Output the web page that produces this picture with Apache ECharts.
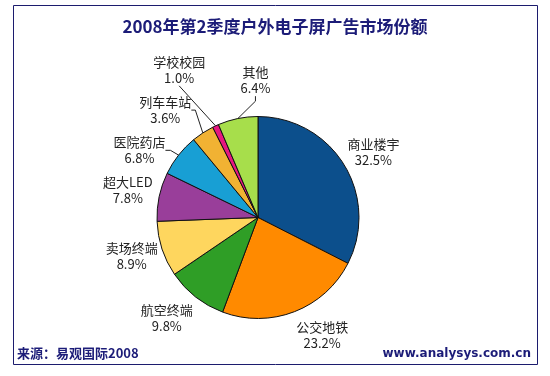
<!DOCTYPE html>
<html>
<head>
<meta charset="utf-8">
<script src="https://cdn.jsdelivr.net/npm/echarts@6/dist/echarts.min.js"></script>
<style>
html,body{margin:0;padding:0;background:#fff;}
#chart{width:550px;height:376px;}
</style>
</head>
<body>
<div id="chart"></div>
<script>
// ---- data ----
const categories = ['商业楼宇', '公交地铁', '航空终端', '卖场终端', '超大LED', '医院药店', '列车车站', '学校校园', '其他'];
const values = [32.5, 23.2, 9.8, 8.9, 7.8, 6.8, 3.6, 1.0, 6.4];
const titleText = '2008年第2季度户外电子屏广告市场份额';
const sourceText = '来源：易观国际2008';
const siteText = 'www.analysys.com.cn';

// ---- styles ----
const colors = ['#0c4f8c', '#ff8a00', '#2f9e26', '#fed65e', '#993e9a', '#189fd4', '#f1b233', '#e6177f', '#a7de4b'];
const showLine = [false, false, false, false, false, true, true, true, true];
const lineLen2 = [5, 5, 5, 5, 5, 5, 4, 0, 5];
const labelShift = [[2, 4], [16, -6], [-9, -4], [0, -3], [0, 0], [-14, 15], [-20, 4], [-23, -27], [24, -7]];
const pieCenter = [258, 217.5];
const pieRadius = 101;
const labelRadius = 133;

const total = values.reduce((a, b) => a + b, 0);
const cum = [];
values.reduce((acc, v, i) => { cum[i] = acc + v / 2; return acc + v; }, 0);

const chart = echarts.init(document.getElementById('chart'), null, {renderer: 'canvas'});
chart.setOption({
  animation: false,
  title: [{
    text: titleText,
    left: 'center',
    top: 13,
    textStyle: {fontSize: 17, fontWeight: 'bold', color: '#1c1c78', fontFamily: 'Noto Sans CJK SC'}
  }, {
    text: sourceText,
    left: 12,
    top: 342,
    textStyle: {fontSize: 13, fontWeight: 'bold', color: '#1c1c78', fontFamily: 'Noto Sans CJK SC'}
  }, {
    text: siteText,
    right: 14,
    top: 343,
    textStyle: {fontSize: 12, fontWeight: 'bold', color: '#1c1c78', fontFamily: 'DejaVu Sans'}
  }],
  graphic: [{
    type: 'rect',
    silent: true,
    shape: {x: 13.5, y: 5.5, width: 524, height: 359},
    style: {fill: 'none', stroke: '#1c1c6e', lineWidth: 1}
  }],
  series: [{
    type: 'pie',
    center: pieCenter,
    radius: pieRadius,
    startAngle: 90,
    clockwise: true,
    avoidLabelOverlap: false,
    itemStyle: {borderColor: '#111', borderWidth: 1},
    label: {
      show: true,
      position: 'outside',
      formatter: p => p.name + '\n' + p.value.toFixed(1) + '%',
      fontSize: 13,
      lineHeight: 16,
      color: '#222',
      fontFamily: 'Noto Sans CJK SC'
    },
    labelLine: {show: true, length: 10, length2: 5, smooth: false, lineStyle: {color: '#222', width: 1}},
    labelLayout: function (params) {
      const i = params.dataIndex;
      const ang = cum[i] / total * Math.PI * 2;
      const x = pieCenter[0] + labelRadius * Math.sin(ang) + labelShift[i][0];
      const y = pieCenter[1] - labelRadius * Math.cos(ang) + labelShift[i][1];
      return {x: x, y: y, align: 'center', verticalAlign: 'middle'};
    },
    data: categories.map((c, i) => ({
      name: c,
      value: values[i],
      itemStyle: {color: colors[i]},
      labelLine: {show: showLine[i], length2: lineLen2[i]}
    }))
  }]
});
</script>
</body>
</html>
